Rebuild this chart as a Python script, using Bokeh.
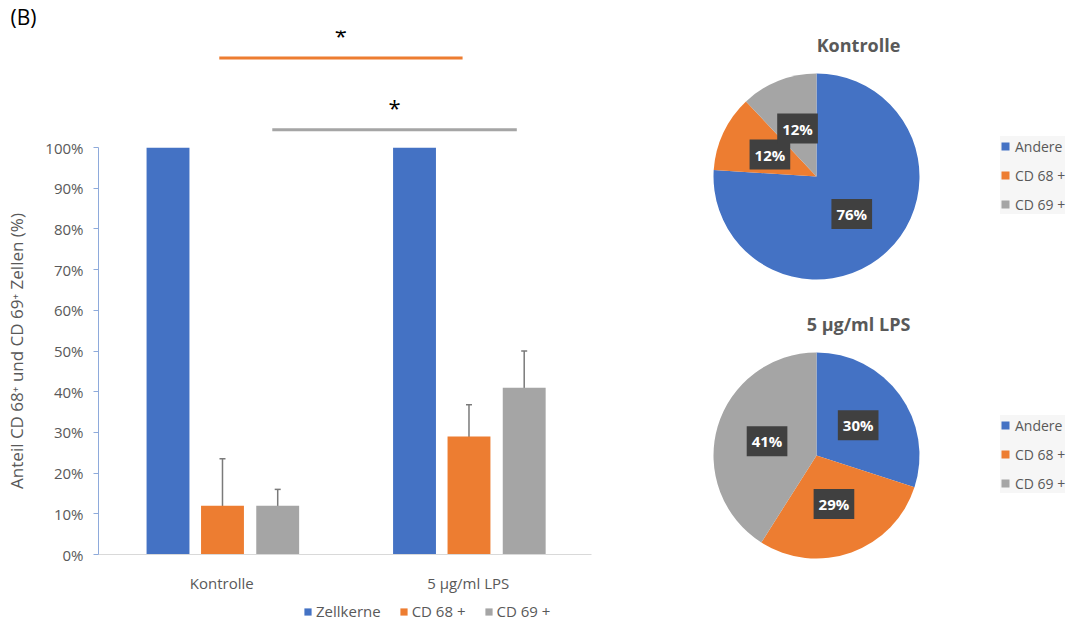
import numpy as np
from bokeh.plotting import figure
from bokeh.models import (Range1d, FixedTicker, NumeralTickFormatter, Whisker, TeeHead,
                          ColumnDataSource, Legend, LegendItem, Title)
from bokeh.layouts import row, column
from bokeh.embed import file_html
from bokeh.resources import INLINE
from bokeh.core.properties import value

# ---------------- data ----------------
categories = ["Kontrolle", "5 µg/ml LPS"]
series = ["Zellkerne", "CD 68 +", "CD 69 +"]
zellkerne = [1.00, 1.00]
cd68 = [0.12, 0.29]
cd69 = [0.12, 0.41]
cd68_err = [0.115, 0.078]
cd69_err = [0.04, 0.09]
y_ticks = [0.0, 0.1, 0.2, 0.3, 0.4, 0.5, 0.6, 0.7, 0.8, 0.9, 1.0]

# significance bars (x in category units, y in fraction)
sig_x0 = [0.49, 0.705]
sig_x1 = [1.477, 1.697]
sig_y = [1.223, 1.044]
sig_star_y = [1.28, 1.1]
sig_text = ["*", "*"]

pie_labels = ["Andere", "CD 68 +", "CD 69 +"]
pie_titles = ["Kontrolle", "5 µg/ml LPS"]
pie_kontrolle = [76, 12, 12]
pie_lps = [30, 29, 41]

COLORS = ["#4472c4", "#ed7d31", "#a5a5a5"]
FONT = "Open Sans"
TXT = "#595959"

# ---------------- bar chart ----------------
p = figure(width=600, height=458, x_range=Range1d(0, 2), y_range=Range1d(0, 1),
           output_backend="svg", toolbar_location=None,
           min_border_left=98, min_border_right=9, min_border_top=10, min_border_bottom=40)
p.grid.visible = False
p.outline_line_color = None

centers = np.arange(len(categories)) + 0.5
offsets = [-0.218, 0.003, 0.227]
bw = 0.174
for vals, off, col in zip([zellkerne, cd68, cd69], offsets, COLORS):
    p.vbar(x=centers + off, top=vals, width=bw, bottom=0, fill_color=col, line_color=None)

for vals, err, off in [(cd68, cd68_err, offsets[1]), (cd69, cd69_err, offsets[2])]:
    v = np.array(vals); e = np.array(err)
    src = ColumnDataSource(dict(base=centers + off, upper=v + e, lower=np.maximum(v - e, 0)))
    w = Whisker(base="base", upper="upper", lower="lower", source=src, dimension="height",
                line_color="#7a7a7a", line_width=1.5,
                upper_head=TeeHead(size=6, line_color="#7a7a7a", line_width=1.5),
                lower_head=TeeHead(size=6, line_color="#7a7a7a", line_width=1.5))
    p.add_layout(w)

p.yaxis.ticker = FixedTicker(ticks=y_ticks)
p.yaxis.formatter = NumeralTickFormatter(format="0%")
p.yaxis.axis_label = "Anteil CD 68⁺ und CD 69⁺ Zellen (%)"
p.yaxis.axis_label_text_font = FONT
p.yaxis.axis_label_text_font_style = "normal"
p.yaxis.axis_label_text_font_size = "17px"
p.yaxis.axis_label_text_color = TXT
p.yaxis.axis_label_standoff = 14
p.yaxis.axis_line_color = "#8eaadb"
p.yaxis.major_tick_line_color = "#8eaadb"
p.yaxis.major_tick_out = 5
p.yaxis.major_tick_in = 0
p.yaxis.minor_tick_line_color = None
p.yaxis.major_label_standoff = 10
p.yaxis.major_label_text_font = FONT
p.yaxis.major_label_text_font_size = "15px"
p.yaxis.major_label_text_color = TXT

p.xaxis.ticker = FixedTicker(ticks=list(centers))
p.xaxis.major_label_overrides = {float(c): n for c, n in zip(centers, categories)}
p.xaxis.axis_line_color = "#d9d9d9"
p.xaxis.major_tick_line_color = None
p.xaxis.minor_tick_line_color = None
p.xaxis.major_label_standoff = 12
p.xaxis.major_label_text_font = FONT
p.xaxis.major_label_text_font_size = "15px"
p.xaxis.major_label_text_color = TXT

# ---------------- legend strip below the bar chart ----------------
# the same bars are drawn here outside the visible y window; only their legend shows
b = figure(width=600, height=30, x_range=p.x_range, y_range=Range1d(5, 6),
           output_backend="svg", toolbar_location=None,
           min_border_left=98, min_border_right=9, min_border_top=0, min_border_bottom=0)
b.axis.visible = False
b.grid.visible = False
b.outline_line_color = None
leg_r = [b.vbar(x=centers + off, top=vals, width=bw, bottom=0, fill_color=col, line_color=None)
         for vals, off, col in zip([zellkerne, cd68, cd69], offsets, COLORS)]
leg = Legend(items=[LegendItem(label=s, renderers=[r]) for s, r in zip(series, leg_r)],
             orientation="horizontal", location=(205, 4),
             padding=0, margin=0, spacing=18, label_standoff=4,
             glyph_width=9, glyph_height=9, label_height=20,
             background_fill_alpha=0, border_line_color=None,
             label_text_font=FONT, label_text_font_size="15px", label_text_color=TXT)
b.add_layout(leg)

# ---------------- significance strip (frame aligned with bar chart) ----------------
t = figure(width=600, height=137, x_range=p.x_range,
           y_range=Range1d((555 - 137) / 408, (555 - 28) / 408),
           output_backend="svg", toolbar_location=None,
           min_border_left=98, min_border_right=9, min_border_top=0, min_border_bottom=0)
t.axis.visible = False
t.grid.visible = False
t.outline_line_color = None
t.add_layout(Title(text="(B)", align="left", offset=-88, standoff=0,
                   text_font=FONT, text_font_size="21px", text_font_style="normal",
                   text_color="black"), "above")
t.segment(x0=sig_x0, y0=sig_y, x1=sig_x1, y1=sig_y, line_color=COLORS[1:], line_width=3)
t.text(x=[(a + b_) / 2 for a, b_ in zip(sig_x0, sig_x1)], y=sig_star_y, text=sig_text,
       text_font=value(FONT), text_font_size="22px", text_color="black",
       text_align="center", text_baseline="middle")

# ---------------- pies ----------------
q = figure(width=480, height=625, x_range=Range1d(0, 480), y_range=Range1d(0, 625),
           output_backend="svg", toolbar_location=None, min_border=0)
q.axis.visible = False
q.grid.visible = False
q.outline_line_color = None

R = 103
pie_layout = [(216, 449, 258, 581, 411), (216, 170, 258, 302, 132)]
for vals, title, (cx, cy, tx, ty, ly) in zip([pie_kontrolle, pie_lps], pie_titles, pie_layout):
    fr = np.array(vals, dtype=float) / sum(vals)
    c = np.concatenate([[0], np.cumsum(fr)])
    start = np.pi / 2 - 2 * np.pi * c[1:]
    end = np.pi / 2 - 2 * np.pi * c[:-1]
    src = ColumnDataSource(dict(start=start, end=end, color=COLORS, label=pie_labels))
    w = q.wedge(x=cx, y=cy, radius=R, start_angle="start", end_angle="end",
                fill_color="color", line_color=None, source=src)
    mid = np.pi / 2 - 2 * np.pi * (c[:-1] + c[1:]) / 2
    q.text(x=cx + 0.5 * R * np.cos(mid), y=cy + 0.5 * R * np.sin(mid),
           text=[f"{v}%" for v in vals], text_font=value(FONT), text_font_size="15px",
           text_font_style="bold", text_color="white", text_align="center",
           text_baseline="middle", background_fill_color="#404040", padding=5)
    q.text(x=[tx], y=[ty], text=[title], text_font=value(FONT), text_font_size="18px",
           text_font_style="bold", text_color=TXT, text_align="center", text_baseline="middle")
    lg = Legend(items=[LegendItem(label=l, renderers=[w], index=i) for i, l in enumerate(pie_labels)],
                location=(400, ly), padding=6, margin=0, spacing=9, label_standoff=5,
                glyph_width=10, glyph_height=10, label_height=20,
                background_fill_color="#f6f6f6", background_fill_alpha=1, border_line_color=None,
                label_text_font=FONT, label_text_font_size="14px", label_text_color=TXT)
    q.add_layout(lg)

layout = row(column(t, p, b), q)
open("out.html", "w").write(file_html(layout, INLINE))
